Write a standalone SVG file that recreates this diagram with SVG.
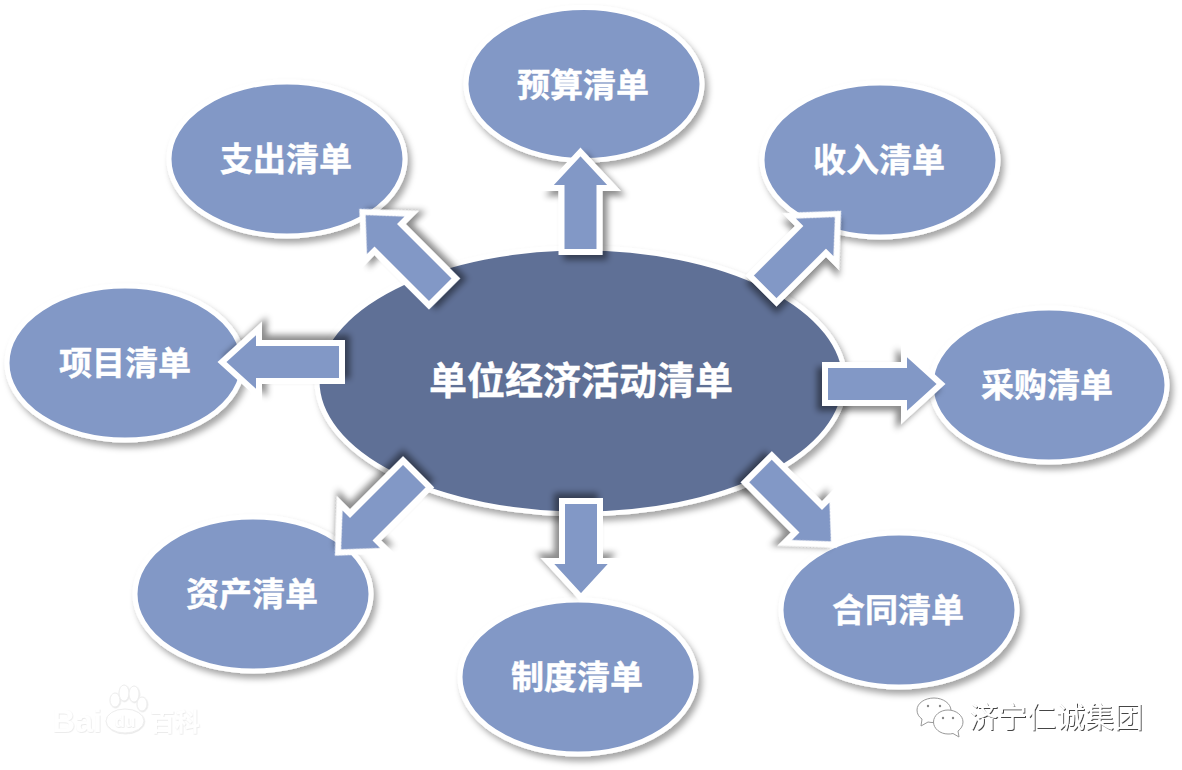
<svg xmlns="http://www.w3.org/2000/svg" width="1182" height="770" viewBox="0 0 1182 770">
<defs>
<filter id="sh" x="-20%" y="-20%" width="150%" height="150%"><feDropShadow dx="3.500" dy="5" stdDeviation="3" flood-color="#000" flood-opacity="0.35"/></filter>
<filter id="sa" x="-30%" y="-30%" width="170%" height="170%"><feDropShadow dx="5" dy="5" stdDeviation="3" flood-color="#000" flood-opacity="0.45"/></filter>
<filter id="em" x="-10%" y="-20%" width="120%" height="150%"><feDropShadow dx="1" dy="1" stdDeviation="0.4" flood-color="#333" flood-opacity="0.9"/></filter>
<filter id="em2" x="-10%" y="-20%" width="120%" height="150%"><feDropShadow dx="0.5" dy="0.6" stdDeviation="0.6" flood-color="#999" flood-opacity="0.3"/></filter>
</defs>
<style>
.sat{fill:#8298c6;stroke:#fff;stroke-width:5;filter:url(#sh)}
.ctr{fill:#5f7096;stroke:#fff;stroke-width:5;filter:url(#sh)}
.arr{fill:#8298c6;stroke:#fff;stroke-width:6;stroke-linejoin:miter;stroke-miterlimit:8;filter:url(#sa)}
text{font-family:"Noto Sans CJK SC","Liberation Sans",sans-serif;text-anchor:middle;fill:#fff;font-weight:700}
.t{font-size:33px;stroke:#fff;stroke-width:.4}
.c{font-size:38px;stroke:#fff;stroke-width:.4}
.wm{font-size:29px;font-weight:400;filter:url(#em)}
.bd{filter:url(#em2)}
.bs{fill:#fff;stroke:#eee;stroke-width:1}
.wc{fill:#fff;stroke:#999;stroke-width:1}
.dot{fill:#888}
</style>
<rect width="1182" height="770" fill="#fff"/>
<g id="center"><ellipse class="ctr" cx="581" cy="381" rx="264" ry="133"/><text class="c" x="581" y="394">单位经济活动清单</text></g>
<g id="yusuan"><ellipse class="sat" cx="584" cy="84" rx="118" ry="76.500"/><text class="t" x="583" y="97">预算清单</text></g>
<g id="zhichu"><ellipse class="sat" cx="287" cy="159" rx="118" ry="77"/><text class="t" x="286" y="171">支出清单</text></g>
<g id="shouru"><ellipse class="sat" cx="880" cy="160" rx="118" ry="77"/><text class="t" x="879" y="172">收入清单</text></g>
<g id="xiangmu"><ellipse class="sat" cx="125" cy="363" rx="118" ry="77"/><text class="t" x="125" y="375">项目清单</text></g>
<g id="caigou"><ellipse class="sat" cx="1049" cy="385" rx="118" ry="77"/><text class="t" x="1047" y="397">采购清单</text></g>
<g id="zichan"><ellipse class="sat" cx="253" cy="594" rx="118" ry="77"/><text class="t" x="252" y="606">资产清单</text></g>
<g id="zhidu"><ellipse class="sat" cx="578" cy="677" rx="118" ry="77"/><text class="t" x="577" y="689">制度清单</text></g>
<g id="hetong"><ellipse class="sat" cx="899" cy="610" rx="118" ry="77"/><text class="t" x="898" y="622">合同清单</text></g>
<g id="connectors">
<polygon class="arr" transform="translate(580.5 152)" points="0,0 33.500,36 19,36 19,100 -19,100 -19,36 -33.500,36"/>
<polygon class="arr" transform="translate(222 362) rotate(-90)" points="0,0 33.500,37 19,37 19,120 -19,120 -19,37 -33.500,37"/>
<polygon class="arr" transform="translate(362.500 212) rotate(-45)" points="0,0 33.500,36 19,36 19,113 -19,113 -19,36 -33.500,36"/>
<polygon class="arr" transform="translate(838 214) rotate(45)" points="0,0 33.500,36 19,36 19,106 -19,106 -19,36 -33.500,36"/>
<polygon class="arr" transform="translate(941 384) rotate(90)" points="0,0 33.500,37 19,37 19,116 -19,116 -19,37 -33.500,37"/>
<polygon class="arr" transform="translate(834 544.500) rotate(135)" points="0,0 33.500,36 19,36 19,107 -19,107 -19,36 -33.500,36"/>
<polygon class="arr" transform="translate(581 597.500) rotate(180)" points="0,0 33.500,36.500 19,36.500 19,96.500 -19,96.500 -19,36.500 -33.500,36.500"/>
<polygon class="arr" transform="translate(338 552.500) rotate(-135)" points="0,0 33.500,36 19,36 19,111 -19,111 -19,36 -33.500,36"/>
</g>
<g id="baidu-mark">
<g class="bd">
<ellipse class="bs" cx="115" cy="700" rx="5" ry="7"/>
<ellipse class="bs" cx="124" cy="693" rx="5" ry="8"/>
<ellipse class="bs" cx="134" cy="694" rx="5" ry="8"/>
<ellipse class="bs" cx="142" cy="704" rx="5" ry="7"/>
<ellipse class="bs" cx="125" cy="721" rx="19" ry="12"/>
</g>
<text class="bd" x="77" y="732" font-size="32" style="font-family:'Liberation Sans',sans-serif">Bai</text>
<text class="bd" x="125" y="727" font-size="17" style="font-family:'Liberation Sans',sans-serif">du</text>
<text class="bd" x="175" y="731" font-size="25">百科</text>
</g>
<g id="wechat-mark">
<path class="wc" d="M934 698c-9 0-17 5-17 12 0 4 2 7 5 9l-1 7 7-4c2 .5 4 .5 6 .5 9 0 17-5 17-12s-8-12.500-17-12.500z"/>
<path class="wc" d="M948 710c-8 0-14.500 5.500-14.500 12s6.500 12 14.500 12c2 0 3 0 5-.5l6 3.500-1-6c3-2 5-5.500 5-9 0-6.500-7-12-15-12z"/>
<circle class="dot" cx="928" cy="706" r="1.200"/><circle class="dot" cx="940" cy="706" r="1.200"/>
<circle class="dot" cx="943" cy="718" r="1.200"/><circle class="dot" cx="953" cy="718" r="1.200"/>
<text class="wm" x="1056" y="728">济宁仁诚集团</text>
</g>
</svg>
